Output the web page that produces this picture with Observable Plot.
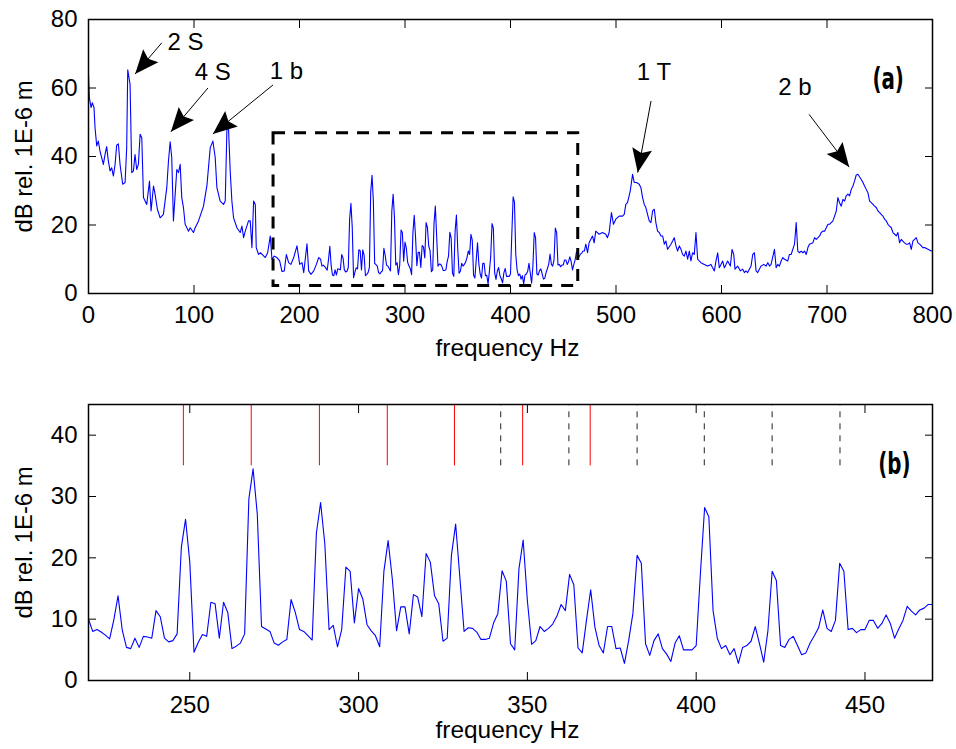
<!DOCTYPE html>
<html>
<head>
<meta charset="utf-8">
<script src="https://cdn.jsdelivr.net/npm/d3@7"></script>
<script src="https://cdn.jsdelivr.net/npm/@observablehq/plot@0.6"></script>
<style>
html, body { margin: 0; padding: 0; background: #fff; }
#chart { width: 956px; }
#chart svg { display: block; }
</style>
</head>
<body>
<div id="chart"></div>
<script>
// ---------- DATA ----------
// Panel (a) spectrum, 0–220 Hz : [frequency Hz, dB]
const lowSpectrum = [
  [0,64.0],[0.8,57.2],[2.4,54.3],[3.6,55.7],[5.2,54.3],[6.2,48.4],[7.8,43.1],[9.3,44.5],[10.9,41.6],[12.5,39.7],
  [14.1,37.7],[15.7,40.6],[17.2,42.9],[18.8,38.7],[20.4,35.8],[22.0,36.7],[23.6,34.3],[25.2,37.7],[26.7,43.3],[28.3,43.7],
  [29.9,37.7],[32.4,31.9],[34.7,32.4],[36.2,42.6],[37.2,65.3],[39.4,61.1],[41.0,35.3],[42.6,35.8],[44.1,40.6],[45.7,36.2],
  [47.3,37.7],[48.9,46.5],[50.5,45.5],[52.1,28.0],[55.2,26.0],[57.8,32.8],[59.3,24.1],[61.6,31.4],[63.1,29.0],[65.3,24.6],
  [67.9,22.1],[71.0,23.1],[74.2,30.9],[75.8,38.7],[77.4,44.3],[78.9,39.7],[80.5,21.2],[83.7,36.2],[85.3,35.3],[86.9,37.7],
  [88.4,28.0],[90.0,25.1],[91.6,20.2],[94.8,18.2],[96.4,19.2],[99.5,17.8],[101.1,19.2],[104.3,21.2],[109.0,25.5],[112.2,31.4],
  [115.4,42.6],[117.9,44.5],[120.1,39.7],[121.7,30.9],[124.8,27.0],[128.0,26.0],[129.6,27.0],[131.2,47.9],[132.7,48.4],[134.3,35.8],
  [135.9,27.0],[137.5,22.1],[140.7,19.2],[143.8,17.8],[145.4,19.7],[147.0,16.3],[148.6,18.2],[151.7,21.2],[153.3,21.2],[154.9,13.4],
  [156.5,27.0],[158.1,26.0],[159.0,13.4],[161.2,11.4],[163.0,11.9],[165.3,11.2],[167.6,10.5],[169.8,11.9],[172.3,16.8],[173.9,10.0],
  [176.1,10.9],[178.6,10.5],[181.2,9.5],[183.4,6.4],[185.6,6.6],[187.5,11.4],[189.7,9.0],[191.9,8.5],[194.5,10.5],[197.6,13.9],
  [200.2,8.5],[202.4,9.0],[204.0,6.1],[207.1,14.5],[208.7,6.6],[210.9,5.6],[213.5,6.6],[216.0,8.5],[218.2,10.5]
];

// 220–470 Hz at 1.25 Hz resolution (panel (b), also used in panel (a))
const zoomStartHz = 220;
const zoomStepHz = 1.25;
const zoomDb = [
  10.0,8.0,8.3,7.9,7.4,6.8,9.9,13.8,8.2,5.4,
  5.2,6.9,5.4,7.2,7.1,6.9,11.4,10.4,6.9,6.3,
  6.5,7.6,21.7,26.3,19.3,4.6,6.2,7.5,7.2,12.75,
  12.5,6.9,12.75,11.1,5.2,5.6,6.1,7.6,29.6,34.5,
  27.1,8.8,8.4,8.0,6.1,5.75,6.3,6.7,13.2,11.1,
  8.3,8.0,7.3,6.6,24.0,29.0,22.3,8.3,9.0,5.5,
  8.3,18.5,17.8,9.4,15.0,13.3,9.1,8.1,7.3,5.5,
  17.8,22.8,16.5,8.1,12.0,12.0,7.6,14.0,13.6,10.4,
  20.7,19.3,13.8,12.5,6.4,6.9,20.4,25.5,16.8,8.0,
  8.6,8.5,7.9,6.7,6.7,6.9,9.4,10.9,17.9,16.2,
  6.0,5.0,18.2,22.9,13.0,5.9,6.5,8.8,8.0,8.5,
  9.2,10.5,12.4,11.4,17.3,15.6,5.3,4.5,9.8,14.8,
  8.7,5.7,4.5,8.8,8.8,5.2,5.3,2.8,6.5,10.9,
  20.4,19.1,6.0,4.1,6.5,7.6,5.2,4.3,3.1,6.1,
  7.3,5.0,5.0,5.0,5.7,17.4,28.2,26.7,11.4,6.9,
  5.2,5.7,4.2,5.2,2.8,5.4,5.7,6.4,8.8,6.0,
  3.0,8.1,17.8,16.3,5.7,5.4,6.7,7.2,5.7,4.2,
  4.5,6.1,7.3,8.6,11.5,8.5,8.0,9.8,19.1,17.8,
  8.3,8.5,7.8,8.3,8.3,9.8,9.8,8.5,9.3,10.7,
  9.3,6.9,8.4,9.8,12.1,11.3,10.7,11.5,11.8,12.4,
  12.4
];

// Panel (a) spectrum, 470–800 Hz : [frequency Hz, dB]
const highSpectrum = [
  [471.4,14.4],[473.0,11.9],[474.5,14.8],[477.7,16.8],[479.3,14.8],[480.8,18.2],[484.0,17.3],[487.2,17.8],[490.3,17.3],[491.9,16.3],
  [493.5,17.8],[495.7,23.6],[497.6,20.2],[499.8,21.7],[503.0,22.6],[506.2,22.6],[507.8,23.1],[509.3,26.0],[510.9,26.5],[513.5,29.9],
  [515.7,34.8],[517.3,32.4],[519.5,32.4],[522.0,31.9],[523.6,30.9],[525.2,28.0],[526.8,26.0],[528.3,25.1],[529.9,23.1],[531.5,21.2],
  [533.1,20.7],[534.7,24.1],[536.3,24.6],[537.8,20.7],[539.4,18.2],[541.0,17.8],[542.6,16.8],[544.2,16.8],[545.8,14.4],[547.3,15.3],
  [548.9,12.9],[552.1,14.4],[553.7,15.3],[555.2,16.3],[556.8,13.9],[558.4,12.4],[560.0,13.9],[561.6,12.9],[563.1,11.4],[564.7,10.9],
  [566.3,12.4],[567.9,10.0],[569.5,12.4],[571.0,9.5],[572.6,11.9],[574.2,11.4],[575.8,17.8],[577.4,10.0],[578.9,9.5],[580.5,9.0],
  [583.7,8.5],[586.9,8.0],[590.0,8.5],[591.6,7.5],[593.2,6.6],[594.8,9.5],[596.4,11.9],[597.9,7.5],[599.5,8.5],[601.1,9.5],
  [602.7,7.5],[604.3,8.5],[605.8,9.5],[608.4,8.0],[610.0,12.9],[611.6,11.4],[612.8,7.1],[615.3,8.0],[617.9,6.6],[620.1,7.1],
  [621.7,6.1],[623.2,6.6],[624.8,6.1],[628.0,8.0],[629.6,11.4],[631.2,11.9],[632.8,6.6],[634.3,6.1],[635.9,7.1],[637.5,8.0],
  [640.1,8.5],[642.3,8.0],[643.9,9.0],[645.5,8.0],[647.0,8.5],[650.2,12.9],[651.8,7.5],[653.3,8.5],[654.9,8.0],[656.5,9.5],
  [658.1,10.5],[659.7,10.0],[662.8,9.5],[664.4,11.4],[666.0,11.4],[669.2,14.4],[670.8,20.7],[672.3,12.4],[674.0,11.9],[675.5,12.4],
  [677.1,11.9],[678.7,12.4],[680.3,11.4],[681.9,13.4],[683.4,14.4],[686.6,14.8],[688.2,16.3],[689.8,15.8],[693.0,16.8],[694.5,17.8],
  [696.1,18.2],[697.7,18.2],[699.3,19.2],[700.9,20.2],[702.4,20.2],[704.0,20.7],[705.6,21.2],[707.2,22.6],[708.8,24.1],[710.3,28.0],
  [711.9,26.5],[713.5,25.5],[715.1,27.5],[716.7,27.0],[718.2,28.5],[719.8,29.0],[721.4,28.5],[723.0,30.4],[724.6,31.4],[726.1,32.8],
  [727.7,34.6],[729.3,34.8],[730.9,34.0],[732.5,33.3],[734.1,32.4],[735.6,31.4],[737.2,30.4],[738.8,29.4],[740.4,27.0],[742.0,26.5],
  [743.6,26.0],[745.1,25.5],[746.7,25.1],[748.3,24.1],[749.9,23.6],[751.4,23.1],[753.0,22.6],[754.6,21.7],[756.2,21.2],[757.8,20.2],
  [759.3,19.7],[760.9,19.2],[762.5,17.8],[764.1,17.3],[765.7,16.8],[767.2,17.8],[768.8,14.8],[770.4,15.8],[771.9,15.3],[773.5,14.8],
  [775.1,14.4],[776.7,14.4],[778.3,14.8],[779.9,12.9],[781.4,15.3],[783.0,15.8],[784.6,16.3],[786.2,14.8],[787.8,14.4],[789.4,13.9],
  [790.9,13.4],[792.5,13.4],[795.7,12.9],[798.8,12.4],[800.0,12.4]
];

// Annotations in panel (a)
const annoLabels = ["2 S", "4 S", "1 b", "1 T", "2 b"];
const annoTextAt = [[91.9,73.4],[117.8,64.5],[187.6,65.0],[536.0,64.7],[669.5,60.3]];
const annoTail   = [[69.5,73.2],[113.2,60.0],[174.9,60.9],[533.2,56.2],[683.0,52.3]];
const annoTip    = [[44.2,64.1],[78.1,47.2],[117.9,46.6],[520.6,35.3],[721.0,36.9]];

// Dashed zoom box in panel (a): [f1, f2, dB1, dB2]
const zoomBox = [175.4, 464.2, 2.2, 46.8];

// Marker lines in panel (b)
const redLines = [248.1, 268.2, 288.4, 308.5, 328.4, 348.6, 368.6];
const dashLines = [342.1, 362.3, 382.5, 402.4, 422.5, 442.6];
const markerRange = [35, 45];

// Panel labels
const panelLabelA = {text: "(a)", f: 758, db: 62.6};
const panelLabelB = {text: "(b)", f: 458.7, db: 35.3};

// Axes
const xDomainA = [0, 800], yDomainA = [0, 80];
const xTicksA = [0, 100, 200, 300, 400, 500, 600, 700, 800];
const yTicksA = [0, 20, 40, 60, 80];
const xDomainB = [220, 470], yDomainB = [0, 45];
const xTicksB = [250, 300, 350, 400, 450];
const yTicksB = [0, 10, 20, 30, 40];
const xTitle = "frequency Hz";
const yTitle = "dB rel. 1E-6 m";

// ---------- BUILD ----------
const FONT = "'Liberation Sans', Arial, Helvetica, sans-serif";
const LABEL_FONT = "'DejaVu Sans', sans-serif";
const BLUE = "#0000ff";
const W = 956;

const zoomSeries = zoomDb.map((db, i) => ({f: zoomStartHz + i * zoomStepHz, db}));
const seriesA = [
  ...lowSpectrum.map(([f, db]) => ({f, db})),
  ...zoomSeries,
  ...highSpectrum.map(([f, db]) => ({f, db}))
];

const layoutA = {height: 380, marginTop: 19, marginBottom: 87, marginLeft: 88, marginRight: 24};
const layoutB = {height: 369, marginTop: 24, marginBottom: 69, marginLeft: 88, marginRight: 24};

function boxAxes(xTicks, yTicks, xPad) {
  const tickStyle = {tickSize: -8, tickFormat: () => "", label: null, strokeWidth: 1};
  return [
    Plot.axisX({...tickStyle, ticks: xTicks, anchor: "bottom"}),
    Plot.axisX({...tickStyle, ticks: xTicks, anchor: "top"}),
    Plot.axisY({...tickStyle, ticks: yTicks, anchor: "left"}),
    Plot.axisY({...tickStyle, ticks: yTicks, anchor: "right"}),
    Plot.axisX({ticks: xTicks, anchor: "bottom", tickSize: 0, tickPadding: xPad, label: null, fontSize: 24, tickFormat: d => String(d)}),
    Plot.axisY({ticks: yTicks, anchor: "left", tickSize: 0, tickPadding: 11, label: null, fontSize: 24, tickFormat: d => String(d)}),
    Plot.frame({stroke: "black", strokeWidth: 1.5})
  ];
}

function titles(xDy) {
  return [
    Plot.text([xTitle], {frameAnchor: "bottom", lineAnchor: "middle", textAnchor: "middle", dy: xDy, dx: -3, fontSize: 24.5, fontFamily: FONT, fill: "black"}),
    Plot.text([yTitle], {frameAnchor: "left", lineAnchor: "middle", textAnchor: "middle", dx: -64, rotate: -90, fontSize: 24, fontFamily: FONT, fill: "black"})
  ];
}

// arrow head shape (filled, concave back)
const headShape = {
  draw(context, l) {
    const w = 10;
    context.moveTo(0, -l);
    context.lineTo(w, 0);
    context.lineTo(0, -4);
    context.lineTo(-w, 0);
    context.closePath();
  }
};

const plotWA = W - layoutA.marginLeft - layoutA.marginRight;
const plotHA = layoutA.height - layoutA.marginTop - layoutA.marginBottom;
const kx = plotWA / (xDomainA[1] - xDomainA[0]);
const ky = plotHA / (yDomainA[1] - yDomainA[0]);

const annos = annoLabels.map((label, i) => {
  const [tf, tdb] = annoTail[i], [pf, pdb] = annoTip[i];
  const dx = (pf - tf) * kx, dy = -(pdb - tdb) * ky;
  return {
    label, tx: annoTextAt[i][0], ty: annoTextAt[i][1],
    tf, tdb, pf, pdb,
    angle: Math.atan2(dx, -dy) * 180 / Math.PI
  };
});

const panelLabelStyle = {x: "f", y: "db", text: "text", fontSize: 30, fontWeight: "bold", fontFamily: LABEL_FONT, fill: "black", lineAnchor: "middle"};

const plotA = Plot.plot({
  width: W, ...layoutA,
  style: {fontFamily: FONT, fontSize: "24px", color: "black", background: "white"},
  x: {domain: xDomainA},
  y: {domain: yDomainA},
  marks: [
    Plot.line(seriesA, {x: "f", y: "db", stroke: BLUE, strokeWidth: 1.1, clip: true}),
    Plot.rect([zoomBox], {x1: d => d[0], x2: d => d[1], y1: d => d[2], y2: d => d[3], fill: "none", stroke: "black", strokeWidth: 3, strokeDasharray: "12,9"}),
    Plot.link(annos, {x1: "tf", y1: "tdb", x2: "pf", y2: "pdb", stroke: "black", strokeWidth: 1}),
    Plot.vector(annos, {x: "pf", y: "pdb", rotate: "angle", length: 24, anchor: "end", shape: headShape, fill: "black", stroke: "none"}),
    Plot.text(annos, {x: "tx", y: "ty", text: "label", fontSize: 24, fontFamily: FONT, fill: "black"}),
    Plot.text([panelLabelA], panelLabelStyle),
    ...boxAxes(xTicksA, yTicksA, 12),
    ...titles(55)
  ]
});

const plotB = Plot.plot({
  width: W, ...layoutB,
  style: {fontFamily: FONT, fontSize: "24px", color: "black", background: "white"},
  x: {domain: xDomainB},
  y: {domain: yDomainB},
  marks: [
    Plot.ruleX(redLines, {x: d => d, y1: markerRange[0], y2: markerRange[1], stroke: "#ff0000", strokeWidth: 1}),
    Plot.ruleX(dashLines, {x: d => d, y1: markerRange[0], y2: markerRange[1], stroke: "#222", strokeWidth: 1, strokeDasharray: "6,6"}),
    Plot.line(zoomSeries, {x: "f", y: "db", stroke: BLUE, strokeWidth: 1.1, clip: true}),
    Plot.text([panelLabelB], panelLabelStyle),
    ...boxAxes(xTicksB, yTicksB, 15),
    ...titles(50)
  ]
});

for (const svg of [plotA, plotB]) {
  const texts = d3.select(svg).selectAll("text");
  // condense the bold panel labels "(a)" / "(b)" horizontally, like the reference's narrow bold face
  texts.filter(function () { return this.textContent === panelLabelA.text || this.textContent === panelLabelB.text; })
    .attr("transform", function () { return (this.getAttribute("transform") || "") + " scale(0.66,1)"; });
  // keep axis titles at the reference's measured lengths
  texts.filter(function () { return this.textContent === yTitle; })
    .attr("textLength", 152).attr("lengthAdjust", "spacingAndGlyphs");
  texts.filter(function () { return this.textContent === xTitle; })
    .attr("textLength", 144).attr("lengthAdjust", "spacingAndGlyphs");
}

const chart = document.getElementById("chart");
chart.appendChild(plotA);
chart.appendChild(plotB);
</script>
</body>
</html>
